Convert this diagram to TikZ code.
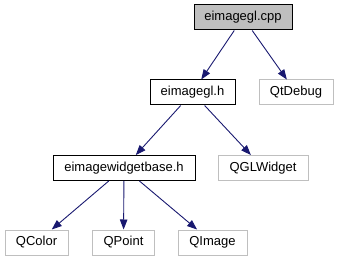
\documentclass[tikz,border=0pt]{standalone}
\usepackage{fontspec}
\setmainfont{Liberation Sans}
\usetikzlibrary{arrows.meta}
\definecolor{edgeblue}{HTML}{191970}
\definecolor{boxgray}{HTML}{BFBFBF}
\begin{document}
\begin{tikzpicture}[x=1pt,y=-1pt,
  every node/.style={font=\fontsize{13}{15}\selectfont, inner sep=0pt, minimum height=25pt, line width=1pt},
  mainfile/.style={draw=black, fill=boxgray},
  header/.style={draw=black, fill=white},
  external/.style={draw=boxgray, fill=white},
  dep/.style={draw=edgeblue, line width=0.9pt, -{Triangle[length=10pt,width=7.5pt]}}]
\useasboundingbox (0,0) rectangle (339,261);
% include hierarchy
\node[mainfile, minimum width=98pt]  (cpp)    at (243,17.5)  {eimagegl.cpp};
\node[header,   minimum width=85pt]  (hdr)    at (192.5,92.5) {eimagegl.h};
\node[external, minimum width=74pt]  (qtdbg)  at (296,92.5)  {QtDebug};
\node[header,   minimum width=142pt] (wbase)  at (124,168)   {eimagewidgetbase.h};
\node[external, minimum width=90pt]  (qgl)    at (263,168)   {QGLWidget};
\node[external, minimum width=63pt]  (qcolor) at (36.5,242.5) {QColor};
\node[external, minimum width=62pt]  (qpoint) at (123.5,242.5) {QPoint};
\node[external, minimum width=69pt]  (qimage) at (212.5,242.5) {QImage};
% edges
\draw[dep] (cpp) -- (hdr);
\draw[dep] (cpp) -- (qtdbg);
\draw[dep] (hdr) -- (wbase);
\draw[dep] (hdr) -- (qgl);
\draw[dep] (wbase) -- (qcolor);
\draw[dep] (wbase) -- (qpoint);
\draw[dep] (wbase) -- (qimage);
\end{tikzpicture}
\end{document}
